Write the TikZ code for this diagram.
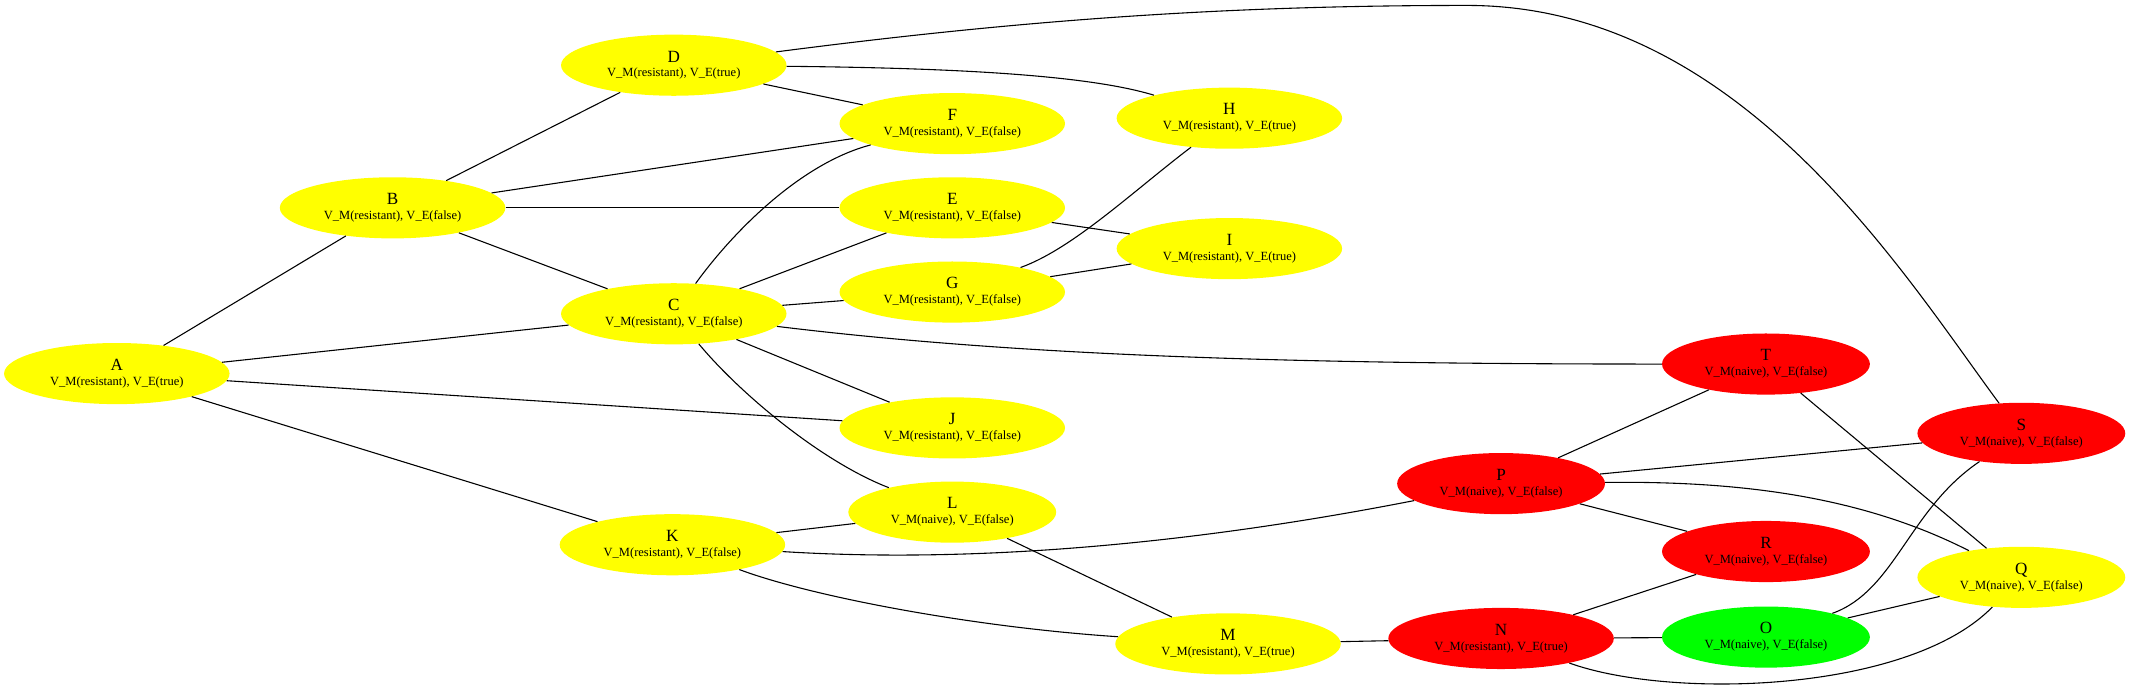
\documentclass[tikz,border=0pt]{standalone}
\usepackage{fontspec}
\setmainfont{Liberation Serif}
\usetikzlibrary{shapes.geometric}
\definecolor{gvyellow}{RGB}{255,255,0}
\definecolor{gvred}{RGB}{255,0,0}
\definecolor{gvgreen}{RGB}{0,255,0}
\newcommand\vlab[3]{{\fontsize{12.6}{11}\selectfont #1}\\V\_M(#2), V\_E(#3)}
\begin{document}
\begin{tikzpicture}[x=1pt, y=-1pt,
    state/.style={ellipse, inner sep=0pt, minimum width=166pt, minimum height=45pt,
      align=center, font=\fontsize{9.2}{11}\selectfont},
    naive/.style={state, minimum width=153pt},
    yel/.style={fill=gvyellow}, rd/.style={fill=gvred}, grn/.style={fill=gvgreen}]
  \useasboundingbox (0,0) rectangle (1568,513);
  \draw
    (86,275) node[state,yel] (A){\vlab{A}{resistant}{true}}
    (289,153) node[state,yel] (B){\vlab{B}{resistant}{false}}
    (496,231) node[state,yel] (C){\vlab{C}{resistant}{false}}
    (496,48) node[state,yel] (D){\vlab{D}{resistant}{true}}
    (701,153) node[state,yel] (E){\vlab{E}{resistant}{false}}
    (701,91) node[state,yel] (F){\vlab{F}{resistant}{false}}
    (701,215) node[state,yel] (G){\vlab{G}{resistant}{false}}
    (905,87) node[state,yel] (H){\vlab{H}{resistant}{true}}
    (905,183) node[state,yel] (I){\vlab{I}{resistant}{true}}
    (701,315) node[state,yel] (J){\vlab{J}{resistant}{false}}
    (495,401) node[state,yel] (K){\vlab{K}{resistant}{false}}
    (701,377) node[naive,yel] (L){\vlab{L}{naive}{false}}
    (904,474) node[state,yel] (M){\vlab{M}{resistant}{true}}
    (1105,470) node[state,rd] (N){\vlab{N}{resistant}{true}}
    (1300,469) node[naive,grn] (O){\vlab{O}{naive}{false}}
    (1105,356) node[naive,rd] (P){\vlab{P}{naive}{false}}
    (1488,425) node[naive,yel] (Q){\vlab{Q}{naive}{false}}
    (1300,406) node[naive,rd] (R){\vlab{R}{naive}{false}}
    (1488,319) node[naive,rd] (S){\vlab{S}{naive}{false}}
    (1300,268) node[naive,rd] (T){\vlab{T}{naive}{false}};
  \begin{scope}[-, line width=0.8pt]
    \draw (A) to (B);
    \draw (A) to (C);
    \draw (A) to (J);
    \draw (A) to (K);
    \draw (B) to (D);
    \draw (B) to (F);
    \draw (B) to (E);
    \draw (B) to (C);
    \draw (D) to (F);
    \draw (D) .. controls (700,50) and (800,55) .. (H);
    \draw (D) .. controls (750,15) and (900,4) .. (1080,4) .. controls (1280,4) and (1400,200) .. (S);
    \draw (C) .. controls (540,170) and (590,120) .. (F);
    \draw (C) to (E);
    \draw (C) to (G);
    \draw (C) .. controls (750,262) and (950,268) .. (T);
    \draw (C) to (J);
    \draw (C) .. controls (545,290) and (605,340) .. (L);
    \draw (E) to (I);
    \draw (G) .. controls (790,183) and (835,140) .. (H);
    \draw (G) to (I);
    \draw (K) to (L);
    \draw (K) .. controls (720,415) and (880,400) .. (P);
    \draw (K) .. controls (600,440) and (720,462) .. (M);
    \draw (L) to (M);
    \draw (M) to (N);
    \draw (N) to (R);
    \draw (N) to (O);
    \draw (N) .. controls (1230,515) and (1405,510) .. (Q);
    \draw (P) to (T);
    \draw (P) to (S);
    \draw (P) to (R);
    \draw (P) .. controls (1280,354) and (1370,365) .. (Q);
    \draw (T) to (Q);
    \draw (O) .. controls (1395,435) and (1405,375) .. (S);
    \draw (O) to (Q);
  \end{scope}
\end{tikzpicture}
\end{document}
